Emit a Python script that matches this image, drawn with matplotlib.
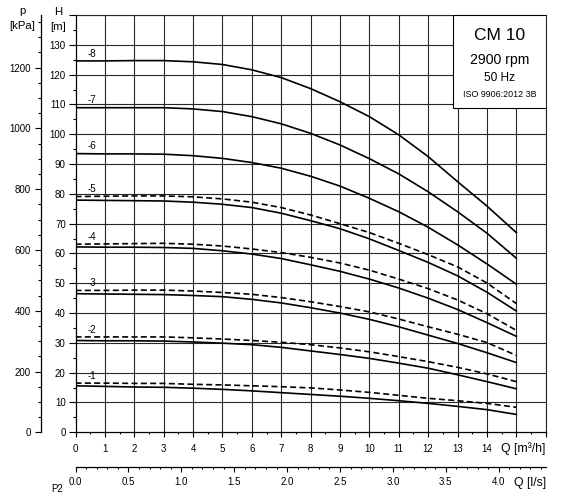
import matplotlib
matplotlib.use("Agg")
import matplotlib.pyplot as plt
from matplotlib.patches import Rectangle
from matplotlib.ticker import MultipleLocator
import numpy as np

plt.rcParams['font.family'] = ['Liberation Sans', 'DejaVu Sans']

# ---------------- data ----------------
q = [0, 1, 2, 3, 4, 5, 6, 7, 8, 9, 10, 11, 12, 13, 14, 15]  # m3/h

stage_labels = ['-8', '-7', '-6', '-5', '-4', '-3', '-2', '-1']

h_solid = {
    '-8': [124.6, 124.6, 124.7, 124.7, 124.3, 123.4, 121.6, 119.0, 115.3, 110.9, 105.9, 99.8, 92.5, 84.1, 75.9, 67.0],
    '-7': [108.9, 108.9, 108.9, 108.9, 108.5, 107.6, 105.9, 103.5, 100.3, 96.4, 91.8, 86.7, 80.7, 74.0, 66.8, 58.4],
    '-6': [93.5, 93.4, 93.4, 93.3, 92.8, 91.9, 90.5, 88.6, 85.9, 82.6, 78.5, 74.0, 68.8, 62.9, 56.5, 49.7],
    '-5': [77.9, 77.8, 77.7, 77.6, 77.2, 76.5, 75.4, 73.5, 71.0, 68.3, 64.9, 61.0, 57.0, 52.5, 47.0, 40.7],
    '-4': [62.2, 62.1, 62.1, 62.0, 61.7, 60.9, 59.8, 58.3, 56.2, 54.0, 51.4, 48.4, 45.0, 41.2, 36.8, 32.2],
    '-3': [46.5, 46.4, 46.3, 46.2, 45.9, 45.5, 44.6, 43.4, 41.8, 40.0, 37.9, 35.4, 32.6, 29.8, 26.7, 23.4],
    '-2': [30.8, 30.7, 30.7, 30.6, 30.3, 29.9, 29.4, 28.5, 27.3, 26.1, 24.8, 23.2, 21.5, 19.3, 17.0, 14.6],
    '-1': [15.6, 15.4, 15.2, 15.1, 14.8, 14.4, 13.9, 13.3, 12.7, 12.1, 11.4, 10.6, 9.7, 8.7, 7.6, 6.0],
}

h_dashed = {
    '-5': [79.1, 79.2, 79.3, 79.3, 79.0, 78.3, 77.2, 75.4, 72.9, 70.0, 67.0, 63.4, 59.6, 55.5, 50.1, 43.2],
    '-4': [63.1, 63.2, 63.3, 63.4, 63.1, 62.5, 61.5, 60.3, 58.7, 56.8, 54.4, 51.4, 48.2, 44.4, 39.8, 34.2],
    '-3': [47.6, 47.6, 47.7, 47.7, 47.4, 46.9, 46.3, 45.2, 43.8, 42.2, 40.4, 38.0, 35.4, 32.9, 30.1, 25.8],
    '-2': [32.0, 32.0, 32.0, 32.0, 31.7, 31.3, 30.8, 30.2, 29.4, 28.3, 27.0, 25.4, 23.7, 21.8, 19.6, 17.0],
    '-1': [16.5, 16.5, 16.4, 16.4, 16.1, 15.9, 15.6, 15.3, 14.9, 14.2, 13.4, 12.4, 11.4, 10.6, 9.7, 8.4],
}

h_ticks = list(range(0, 131, 10))
q_ticks = list(range(0, 15))
p_ticks = list(range(0, 1201, 200))
ls_ticks = [0.0, 0.5, 1.0, 1.5, 2.0, 2.5, 3.0, 3.5, 4.0]

info_lines = ['CM 10', '2900 rpm', '50 Hz', 'ISO 9906:2012 3B']

# ---------------- figure ----------------
W, H = 563, 494
fig = plt.figure(figsize=(W / 100, H / 100), dpi=100)
L, R, T, B = 75.5, 545.7, 15.0, 432.3
ax = fig.add_axes([L / W, 1 - B / H, (R - L) / W, (B - T) / H])
ax.set_xlim(0, 16)
ax.set_ylim(0, 140)

grid_kw = dict(color='#262626', lw=0.8, zorder=1)
for x in range(1, 17):
    ax.axvline(x, **grid_kw)
for y in range(10, 141, 10):
    ax.axhline(y, **grid_kw)

TS = 7.0
ax.set_xticks(list(range(0, 17)))
ax.set_xticklabels([str(v) if v in q_ticks else '' for v in range(0, 17)])
ax.xaxis.set_minor_locator(MultipleLocator(0.5))
ax.set_yticks(list(range(0, 141, 10)))
ax.set_yticklabels([str(v) if v in h_ticks else '' for v in range(0, 141, 10)])
ax.yaxis.set_minor_locator(MultipleLocator(5))

ax.tick_params(axis='x', which='major', length=3.6, width=0.8, labelsize=TS, pad=4.6)
ax.tick_params(axis='x', which='minor', length=1.7, width=0.8)
ax.tick_params(axis='y', which='major', length=4.8, width=0.8, labelsize=TS, pad=2.2)
ax.tick_params(axis='y', which='minor', length=2.4, width=0.8)

for s in ['left', 'bottom']:
    ax.spines[s].set_linewidth(0.9)
    ax.spines[s].set_color('black')
for s in ['top', 'right']:
    ax.spines[s].set_linewidth(0.8)
    ax.spines[s].set_color('#262626')

# curves
for lab in stage_labels:
    ax.plot(q, h_solid[lab], color='black', lw=1.2, zorder=3, solid_joinstyle='round')
    top = h_solid[lab][0]
    if lab in h_dashed:
        ax.plot(q, h_dashed[lab], color='black', lw=1.2, ls=(0, (3.6, 2.0)), zorder=3)
        top = max(top, h_dashed[lab][0])
    ax.text(0.4, top + 0.8, lab, fontsize=TS, ha='left', va='bottom', zorder=4)

# info box
bx0, by0 = 12.85, 108.7
ax.add_patch(Rectangle((bx0, by0), 16 - bx0, 140 - by0, facecolor='white',
                       edgecolor='black', lw=0.8, zorder=5))
cx = (bx0 + 16) / 2
for txt, yy, fs in zip(info_lines, [133.0, 124.9, 118.9, 113.2], [12.5, 10.2, 8.6, 6.4]):
    ax.text(cx, yy, txt, fontsize=fs, ha='center', va='center', zorder=6)

# secondary pressure axis
pos_y = (41.0 - L) / (R - L)
secy = ax.secondary_yaxis(pos_y, functions=(lambda h: h * 9.81, lambda p: p / 9.81))
secy.set_yticks(p_ticks)
secy.set_yticklabels([str(v) for v in p_ticks])
secy.yaxis.set_minor_locator(MultipleLocator(50))
secy.tick_params(axis='y', which='major', length=4.6, width=0.8, labelsize=TS, pad=2.6)
secy.tick_params(axis='y', which='minor', length=2.4, width=0.8)
secy.spines['left'].set_linewidth(0.9)

# secondary flow axis (l/s)
pos_x = (B - 466.7) / (B - T)
secx = ax.secondary_xaxis(pos_x, functions=(lambda v: v / 3.6, lambda v: v * 3.6))
secx.set_xticks(ls_ticks)
secx.set_xticklabels([f'{v:.1f}' for v in ls_ticks])
secx.xaxis.set_minor_locator(MultipleLocator(0.1))
secx.tick_params(axis='x', which='major', length=3.6, width=0.8, labelsize=TS, pad=3.8)
secx.tick_params(axis='x', which='minor', length=1.7, width=0.8)
secx.spines['bottom'].set_linewidth(0.9)

# axis titles
fig.text(545.7 / W, 1 - 448.5 / H, 'Q [m³/h]', fontsize=8.8, ha='right', va='center')
fig.text(545.7 / W, 1 - 482.7 / H, 'Q [l/s]', fontsize=8.8, ha='right', va='center')
fig.text(58.5 / W, 1 - 12.0 / H, 'H', fontsize=8.2, ha='center', va='center')
fig.text(58.5 / W, 1 - 26.5 / H, '[m]', fontsize=8.2, ha='center', va='center')
fig.text(22.0 / W, 1 - 11.5 / H, 'p', fontsize=8.2, ha='center', va='center')
fig.text(22.5 / W, 1 - 26.0 / H, '[kPa]', fontsize=8.2, ha='center', va='center')
fig.text(57.0 / W, 1 - 493.5 / H, 'P2', fontsize=7.0, ha='center', va='bottom')

fig.savefig('out.png', dpi=100)
